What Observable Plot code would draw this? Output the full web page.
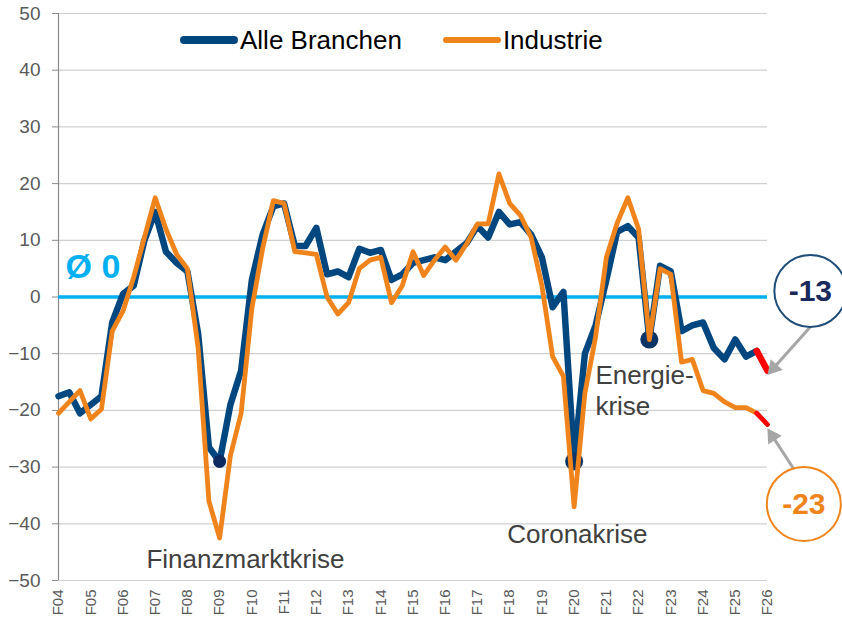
<!DOCTYPE html>
<html><head><meta charset="utf-8">
<script src="https://cdn.jsdelivr.net/npm/d3@7"></script>
<script src="https://cdn.jsdelivr.net/npm/@observablehq/plot@0.6"></script>
<style>
body{margin:0;background:#fff;font-family:"Liberation Sans",Arial,sans-serif;}
#wrap{position:relative;width:842px;height:620px;overflow:hidden;}
#legend{position:absolute;left:180px;top:25px;height:30px;display:flex;align-items:center;font-size:26px;color:#000;white-space:nowrap;}
.sw{display:inline-block;width:58px;border-radius:4px;margin-right:2px;}
</style></head><body><div id="wrap"><div id="legend"></div></div>
<script>
// tick labels (one per year, every third survey)
const tickLabels = ["F04","F05","F06","F07","F08","F09","F10","F11","F12","F13","F14","F15","F16","F17","F18","F19","F20","F21","F22","F23","F24","F25","F26"];
// series values, three surveys per year, F04 .. F26
const alle = [-17.5,-16.8,-20.5,-19,-17.5,-4.5,0.5,2,10,15,8,6,4.5,-6.5,-26.5,-29,-19,-13,3,11,16,16.5,9,9,12.2,4,4.5,3.5,8.5,7.8,8.3,3,4,6,6.5,7,6.5,8,9.5,12.5,10.5,15,12.8,13.2,11,7,-1.8,0.9,-29,-10,-5,3,11.5,12.5,10.5,-7.5,5.5,4.5,-6,-5,-4.5,-9,-11,-7.5,-10.5,-9.5,-13];
const industrie = [-20.5,-18.5,-16.5,-21.5,-19.8,-6,-2.5,3.5,10.5,17.5,12,7.5,5,-9,-36,-42.5,-28,-20.5,-2,8.5,17,16.5,8,7.8,7.5,0,-3,-1,5,6.5,7,-1,2,8,3.8,6.5,8.8,6.5,9.4,12.9,12.9,21.7,16.5,14.4,10.5,2,-10.5,-14,-37,-17,-7,7,13,17.5,12,-7.5,5,4,-11.5,-11,-16.5,-17,-18.5,-19.5,-19.5,-20.5,-22.5];
const seriesNames = ["Alle Branchen", "Industrie"];
const seriesColors = ["#00477f", "#f0841c"];
const yTicks = [-50,-40,-30,-20,-10,0,10,20,30,40,50];
const crisisSmall = [15];
const crisisLarge = [48, 55];
const avgLabel = "Ø 0";
const notesCenter = [
  {text: "Finanzmarktkrise", x: 17.4, y: -46.3},
  {text: "Coronakrise", x: 48.3, y: -42.0}
];
const notesStart = [
  {text: "Energie-", x: 49.98, y: -13.8},
  {text: "krise", x: 49.98, y: -19.3}
];
const callouts = [
  {text: "-13", cx: 69.99, cy: 1.06, r: 36, color: "#1f4e79", textColor: "#1b2a5c", x1: 69.98, y1: -5.3, hx: 66.57, hy: -12.54, rot: -138},
  {text: "-23", cx: 69.38, cy: -36.5, r: 37, color: "#f0841c", textColor: "#f0841c", x1: 68.40, y1: -30.21, hx: 66.46, hy: -24.54, rot: -33}
];

const n = alle.length;
const mk = arr => arr.map((v, i) => ({i, v}));
const A = mk(alle), I = mk(industrie);
const last = n - 2;

const calloutMarks = callouts.flatMap(c => [
  Plot.link([c], {x1: "x1", y1: "y1", x2: "hx", y2: "hy", stroke: "#a6a6a6", strokeWidth: 3}),
  Plot.dot([c], {x: "hx", y: "hy", symbol: "triangle", r: 6, fill: "#a6a6a6", rotate: c.rot}),
  Plot.dot([c], {x: "cx", y: "cy", r: c.r, fill: "white", stroke: c.color, strokeWidth: 2}),
  Plot.text([c], {x: "cx", y: "cy", text: "text", fontSize: 30, fontWeight: "bold", fill: c.textColor})
]);

const chart = Plot.plot({
  width: 842, height: 620,
  marginLeft: 58, marginRight: 75, marginTop: 13, marginBottom: 40,
  style: {fontFamily: "Liberation Sans, Arial, sans-serif", color: "#595959", background: "white", overflow: "visible"},
  x: {domain: [0, n - 1], axis: null},
  y: {domain: [-50, 50], axis: null},
  marks: [
    Plot.ruleY(yTicks, {stroke: "#d0d0d0", strokeWidth: 1.2}),
    Plot.ruleX([0], {stroke: "#8a8a8a", strokeWidth: 1.2}),
    Plot.axisY({ticks: yTicks, tickSize: 6, tickPadding: 12, fontSize: 19, stroke: "#8a8a8a", fill: "#595959"}),
    Plot.axisX({ticks: tickLabels.map((d, k) => k * 3), tickFormat: i => tickLabels[i / 3], tickRotate: -90, tickSize: 0, tickPadding: 9, fontSize: 15, fill: "#595959"}),
    Plot.ruleY([0], {stroke: "#00b0f0", strokeWidth: 3.5}),
    Plot.text([avgLabel], {x: 0.65, y: 5.2, text: d => d, textAnchor: "start", fontSize: 34, fontWeight: "bold", fill: "#00b0f0"}),
    Plot.line(A.filter(d => d.i <= last), {x: "i", y: "v", stroke: seriesColors[0], strokeWidth: 6.5, strokeLinejoin: "round", strokeLinecap: "round"}),
    Plot.line(A.filter(d => d.i >= last), {x: "i", y: "v", stroke: "#ff0000", strokeWidth: 6.5, strokeLinecap: "round"}),
    Plot.dot(A.filter(d => crisisSmall.includes(d.i)), {x: "i", y: "v", r: 6.5, fill: "#0c2a60"}),
    Plot.dot(A.filter(d => crisisLarge.includes(d.i)), {x: "i", y: "v", r: 9, fill: "#0c3566"}),
    Plot.line(I.filter(d => d.i <= last), {x: "i", y: "v", stroke: seriesColors[1], strokeWidth: 4.8, strokeLinejoin: "round", strokeLinecap: "round"}),
    Plot.line(I.filter(d => d.i >= last), {x: "i", y: "v", stroke: "#ff0000", strokeWidth: 4.8, strokeLinecap: "round"}),
    Plot.text(notesCenter, {x: "x", y: "y", text: "text", textAnchor: "middle", fontSize: 26, fill: "#404040"}),
    Plot.text(notesStart, {x: "x", y: "y", text: "text", textAnchor: "start", fontSize: 26, fill: "#404040"}),
    ...calloutMarks
  ]
});
document.getElementById("wrap").prepend(chart);

const legend = document.getElementById("legend");
seriesNames.forEach((name, k) => {
  const item = document.createElement("span");
  item.style.display = "inline-flex";
  item.style.alignItems = "center";
  if (k > 0) item.style.marginLeft = "41px";
  const sw = document.createElement("span");
  sw.className = "sw";
  sw.style.height = (k === 0 ? 8 : 6) + "px";
  sw.style.background = seriesColors[k];
  item.appendChild(sw);
  item.appendChild(document.createTextNode(name));
  legend.appendChild(item);
});
</script></body></html>
